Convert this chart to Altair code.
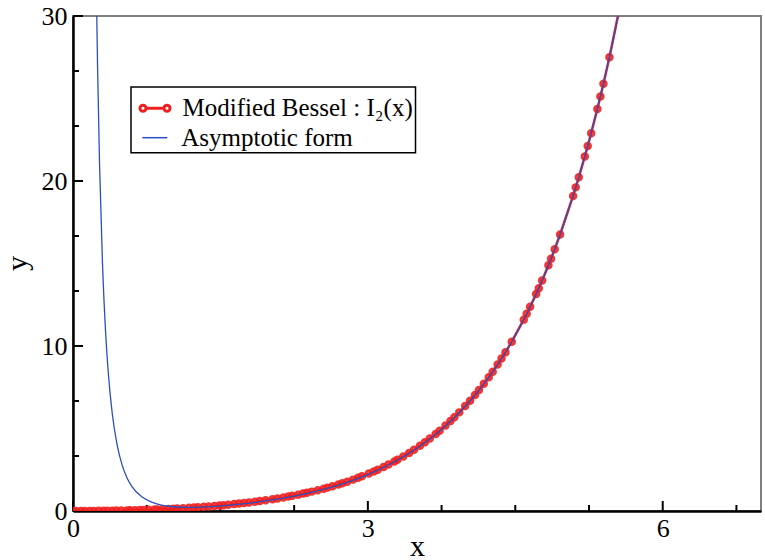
import altair as alt
import pandas as pd

# ---- data ----
red_x = [0.0, 0.03, 0.08, 0.12, 0.17, 0.21, 0.26, 0.31, 0.35, 0.40, 0.44, 0.49, 0.55, 0.58,
         0.63, 0.68, 0.72, 0.77, 0.83, 0.86, 0.91, 0.97, 1.02, 1.06, 1.12, 1.18, 1.23, 1.27,
         1.33, 1.38, 1.44, 1.49, 1.53, 1.58, 1.64, 1.69, 1.74, 1.79, 1.85, 1.90, 1.96,
         2.03, 2.08, 2.14, 2.19, 2.23, 2.29, 2.34, 2.38, 2.43, 2.49, 2.55, 2.59, 2.64, 2.70,
         2.74, 2.79, 2.85, 2.90, 2.94, 3.01, 3.06, 3.10, 3.16, 3.21, 3.27, 3.30, 3.36, 3.42,
         3.47, 3.53, 3.58, 3.63, 3.69, 3.73, 3.79, 3.84, 3.88, 3.93, 3.99, 4.04, 4.09, 4.13,
         4.18, 4.23, 4.27, 4.32, 4.36, 4.40, 4.464, 4.586, 4.616, 4.651, 4.712, 4.739, 4.773,
         4.837, 4.864, 4.901, 4.956, 5.088, 5.115, 5.146, 5.207, 5.237, 5.272, 5.335, 5.366,
         5.397, 5.458, 5.60]
red_y = [0.0, 0.0001, 0.0008, 0.0018, 0.0036, 0.0055, 0.0085, 0.0120, 0.0154, 0.0201, 0.0244,
         0.0306, 0.0385, 0.0433, 0.0511, 0.0600, 0.0677, 0.0778, 0.0910, 0.0981, 0.1108, 0.1271,
         0.1414, 0.1535, 0.1738, 0.1951, 0.2142, 0.2302, 0.2555, 0.2784, 0.3068, 0.3325, 0.3541,
         0.3826, 0.4182, 0.4500, 0.4838, 0.5188, 0.5638, 0.6035, 0.6536,
         0.7158, 0.7629, 0.8236, 0.8777, 0.9221, 0.9920, 1.0543, 1.1069, 1.1748, 1.2604, 1.3521,
         1.4171, 1.5004, 1.6062, 1.6810, 1.7791, 1.9018, 2.0101, 2.1012, 2.2697, 2.3960, 2.5020,
         2.6701, 2.8180, 3.0039, 3.1013, 3.3057, 3.5225, 3.7121, 3.9531, 4.1660, 4.3885, 4.6694,
         4.8668, 5.1788, 5.4514, 5.6791, 5.9775, 6.3570, 6.6882, 7.0368, 7.3291, 7.7104,
         8.110, 8.443, 8.880, 9.246, 9.626, 10.263, 11.598, 11.950, 12.374, 13.148, 13.507,
         13.972, 14.891, 15.295, 15.870, 16.759, 19.097, 19.614, 20.224, 21.478, 22.122, 22.898,
         24.360, 25.116, 25.894, 27.495, 31.61]

blue_x = [0.235, 0.24, 0.25, 0.27, 0.30, 0.33, 0.36, 0.40, 0.45, 0.50, 0.55, 0.60, 0.70, 0.80,
          0.90, 1.00, 1.10, 1.20, 1.30, 1.40, 1.50, 1.75, 2.00, 2.25, 2.50, 2.75, 3.00, 3.25,
          3.50, 3.75, 4.00, 4.25, 4.50, 4.75, 5.00, 5.25, 5.50, 5.60]
blue_y = [32.87, 30.73, 26.96, 21.06, 15.00, 11.02, 8.305, 5.878, 3.973, 2.783, 2.006, 1.481,
          0.857, 0.535, 0.363, 0.274, 0.234, 0.224, 0.235, 0.262, 0.300, 0.441, 0.638, 0.898,
          1.232, 1.661, 2.209, 2.909, 3.802, 4.942, 6.397, 8.252, 10.618, 13.636, 17.483,
          22.388, 28.640, 31.598]

x_major = [0, 3, 6]
x_minor = [0.75, 1.5, 2.25, 3.75, 4.5, 5.25, 6.75]
y_major = [0, 10, 20, 30]
y_minor = [3.333, 6.667, 13.333, 16.667, 23.333, 26.667]

RED_LABEL = "Modified Bessel : I\u2082(x)"
BLUE_LABEL = "Asymptotic form"

# ---- styling ----
RED = "#f02020"
BLUE = "#2b4fbf"
FONT = "Liberation Serif, Times New Roman, Times, serif"
W, H = 688, 495

red = pd.DataFrame({"x": red_x, "y": red_y, "s": RED_LABEL})
blue = pd.DataFrame({"x": blue_x, "y": blue_y, "s": BLUE_LABEL})

xs = alt.Scale(domain=[0, 7], nice=False, zero=False)
ys = alt.Scale(domain=[0, 30], nice=False, zero=False)

x_axis = alt.Axis(values=x_major, ticks=False, grid=False, domainColor="black",
                  domainWidth=2.5, labelFont=FONT, labelFontSize=26, labelPadding=4,
                  labelFlush=False, labelColor="black", title="x", titleFont=FONT,
                  titleFontSize=30, titleFontWeight="normal", titleColor="black",
                  titleX=344, titleY=44, titleBaseline="alphabetic", titleAlign="center")
y_axis = alt.Axis(values=y_major, ticks=False, grid=False, domainColor="black",
                  domainWidth=2.5, labelFont=FONT, labelFontSize=26, labelPadding=6,
                  labelColor="black", title="y", titleFont=FONT, titleFontSize=30,
                  titleFontWeight="normal", titleColor="black", titleX=-47, titleY=247,
                  titleBaseline="alphabetic", titleAlign="center", titleAngle=270)

X = alt.X("x:Q", scale=xs, axis=x_axis)
Y = alt.Y("y:Q", scale=ys, axis=y_axis)

RED_PATH = ("M-0.56,0L0.56,0 "
            "M-0.94,0A0.19,0.19 0 1,0 -0.56,0A0.19,0.19 0 1,0 -0.94,0Z "
            "M0.56,0A0.19,0.19 0 1,0 0.94,0A0.19,0.19 0 1,0 0.56,0Z")

xt_major = alt.Chart(pd.DataFrame({"x": x_major})).mark_rule(color="black", strokeWidth=2).encode(
    x=X, y=alt.value(H), y2=alt.value(H - 10))
xt_minor = alt.Chart(pd.DataFrame({"x": x_minor})).mark_rule(color="black", strokeWidth=2).encode(
    x=X, y=alt.value(H), y2=alt.value(H - 6))
yt_major = alt.Chart(pd.DataFrame({"y": y_major})).mark_rule(color="black", strokeWidth=2).encode(
    y=Y, x=alt.value(0), x2=alt.value(10))
yt_minor = alt.Chart(pd.DataFrame({"y": y_minor})).mark_rule(color="black", strokeWidth=2).encode(
    y=Y, x=alt.value(0), x2=alt.value(6))

red_line = alt.Chart(red).mark_line(strokeWidth=2.5, clip=True).encode(
    x=X, y=Y,
    color=alt.Color("s:N", scale=alt.Scale(domain=[RED_LABEL], range=[RED]),
                    legend=alt.Legend(title=None, orient="none", legendX=64.5, legendY=74.7,
                                      symbolType=RED_PATH, symbolSize=1024,
                                      symbolStrokeWidth=3, symbolFillColor="white",
                                      labelFont=FONT, labelFontSize=25, labelColor="black",
                                      labelOffset=10, padding=0, labelLimit=400)))
red_pts = alt.Chart(red).mark_point(filled=False, shape="circle", size=30, strokeWidth=3,
                                    color=RED, opacity=0.9, clip=True).encode(x=X, y=Y)
blue_line = alt.Chart(blue).mark_line(strokeWidth=1.3, clip=True, interpolate="monotone").encode(
    x=X, y=Y,
    stroke=alt.Stroke("s:N", scale=alt.Scale(domain=[BLUE_LABEL], range=[BLUE]),
                      legend=alt.Legend(title=None, orient="none", legendX=68.3, legendY=108.2,
                                        symbolType="M-1,0L1,0", symbolSize=625,
                                        symbolStrokeWidth=1.5,
                                        labelFont=FONT, labelFontSize=25, labelColor="black",
                                        labelOffset=13, padding=0, labelLimit=400)))
box = alt.Chart(pd.DataFrame({"a": [0]})).mark_rect(fill="white", stroke="black",
                                                    strokeWidth=1.5).encode(
    x=alt.value(58), x2=alt.value(342.5), y=alt.value(71), y2=alt.value(136.7))

chart = alt.layer(xt_major, xt_minor, yt_major, yt_minor, red_line, red_pts, blue_line, box).properties(
    width=W, height=H,
    autosize=alt.AutoSizeParams(type="none"),
    padding={"left": 73, "top": 16, "right": 4, "bottom": 49},
    background="white",
).configure_view(stroke="#7f7f7f", strokeWidth=2)

chart.save("out.html", embed_options={"renderer": "svg", "actions": False})
